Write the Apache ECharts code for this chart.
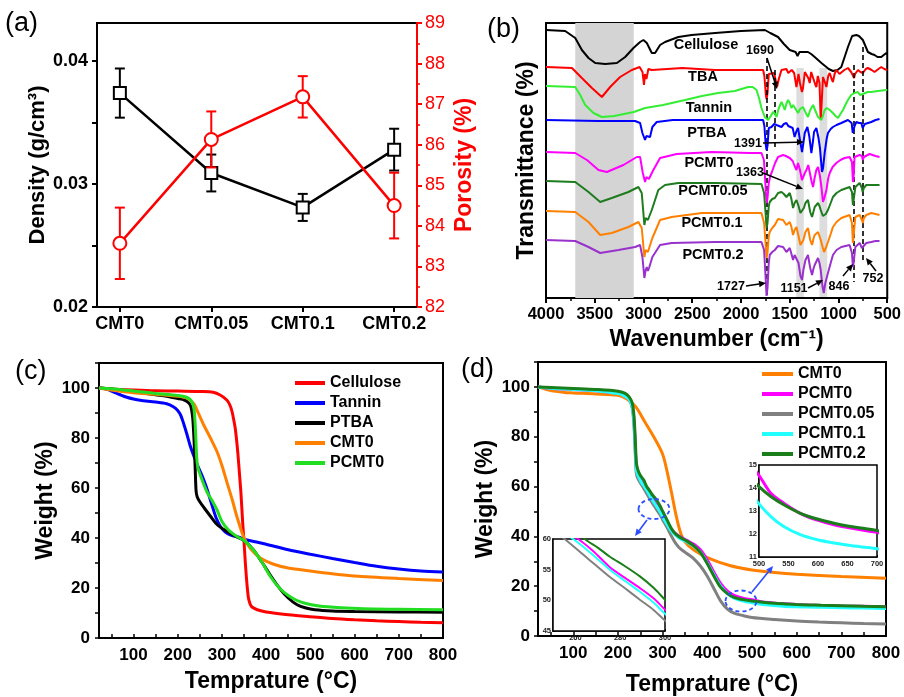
<!DOCTYPE html>
<html><head><meta charset="utf-8">
<script src="https://cdn.jsdelivr.net/npm/echarts@6/dist/echarts.min.js"></script>
<style>html,body{margin:0;padding:0;background:#fff}#c{width:904px;height:697px}</style>
</head><body><div id="c"></div>
<script>
const FONT = 'Arial, "Liberation Sans", Helvetica, sans-serif';

// ---------- (a) density / porosity ----------
const aCategories = ['CMT0', 'CMT0.05', 'CMT0.1', 'CMT0.2'];
const aDensity = [0.0374, 0.0309, 0.0281, 0.0328];
const aDensityErr = [0.0020, 0.0015, 0.0011, 0.0017];
const aPorosity = [83.57, 86.13, 87.18, 84.50];
const aPorosityErr = [0.88, 0.69, 0.51, 0.81];

// ---------- (b) FTIR spectra [wavenumber, offset transmittance (a.u.)] ----------
const bCellulose = [[4000,268],[3803,267],[3700,260],[3632,248],[3564,240],[3495,235],[3393,234],[3273,235],[3188,241],[3103,250],[3035,256],[3001,258],[2966,255],[2915,245],[2881,245],[2830,253],[2779,256],[2643,261],[2506,263],[2265,265],[2000,267],[1755,268],[1700,265],[1620,261],[1560,254],[1500,248],[1440,246],[1420,242],[1400,246],[1380,245],[1313,246],[1280,244],[1244,241],[1175,235],[1100,229],[1057,227],[1010,228],[971,231],[903,251],[860,262],[817,263],[790,262],[750,258],[698,246],[660,244],[630,243],[600,241],[561,241],[510,245],[500,244]];
const bTBA = [[4000,231],[3734,230],[3632,220],[3529,210],[3427,201],[3342,211],[3240,221],[3120,228],[3040,231],[3010,226],[2995,213],[2985,224],[2970,219],[2950,229],[2915,228],[2600,230],[2267,228],[1773,228],[1760,222],[1745,203],[1738,199],[1728,205],[1715,224],[1700,226],[1660,225],[1645,218],[1630,211],[1615,218],[1585,228],[1534,229],[1515,225],[1500,225],[1480,228],[1455,225],[1431,211],[1410,224],[1395,215],[1375,206],[1364,210],[1345,226],[1329,228],[1310,220],[1295,215],[1280,226],[1260,225],[1240,214],[1227,211],[1212,222],[1195,215],[1182,178],[1170,200],[1159,221],[1140,216],[1124,211],[1105,222],[1090,225],[1070,219],[1057,216],[1040,224],[1022,228],[990,224],[971,223],[940,228],[903,230],[870,226],[852,225],[840,220],[830,224],[800,228],[775,226],[750,225],[720,229],[698,230],[660,228],[630,226],[590,229],[561,231],[530,229],[500,228]];
const bTannin = [[4000,212],[3700,211],[3649,203],[3598,193],[3513,185],[3427,181],[3300,182],[3100,186],[2984,190],[2800,193],[2574,198],[2400,202],[2234,205],[2063,207],[1927,211],[1880,211],[1841,208],[1815,200],[1790,190],[1756,181],[1722,178],[1695,182],[1671,186],[1650,184],[1636,181],[1615,189],[1585,196],[1570,193],[1551,188],[1535,194],[1517,198],[1500,195],[1483,190],[1465,193],[1450,191],[1415,185],[1395,189],[1364,191],[1340,186],[1313,181],[1290,188],[1261,193],[1240,188],[1210,181],[1175,178],[1160,182],[1142,188],[1120,190],[1090,188],[1057,185],[1030,182],[1005,180],[980,184],[954,188],[930,193],[903,198],[870,203],[835,205],[800,206],[780,203],[766,201],[750,204],[732,206],[700,206],[664,206],[596,207],[510,208],[500,208]];
const bPTBA = [[4000,178],[3460,177],[3440,175],[3420,177],[3086,177],[3035,175],[3011,165],[2984,158],[2970,162],[2956,163],[2933,161],[2909,171],[2864,176],[2700,178],[2267,178],[1773,178],[1760,172],[1748,155],[1738,148],[1728,152],[1715,170],[1687,171],[1660,174],[1636,173],[1610,172],[1585,171],[1560,174],[1534,175],[1515,172],[1500,171],[1470,170],[1450,161],[1431,167],[1415,170],[1395,158],[1374,146],[1360,155],[1346,165],[1319,171],[1300,162],[1278,145],[1260,158],[1251,166],[1227,170],[1205,160],[1190,150],[1169,126],[1158,130],[1142,145],[1120,160],[1108,165],[1080,169],[1057,171],[1020,173],[971,175],[903,178],[865,175],[854,165],[845,163],[835,172],[817,176],[790,175],[766,175],[752,170],[742,170],[730,174],[715,175],[664,176],[620,178],[579,179]];
const bPCMT0 = [[4000,146],[3700,145],[3580,138],[3462,128],[3376,126],[3206,133],[3069,141],[3035,141],[3007,125],[2984,116],[2970,121],[2960,121],[2945,119],[2933,118],[2899,128],[2830,140],[2659,144],[2300,146],[1909,145],[1790,145],[1765,138],[1756,125],[1745,105],[1736,95],[1728,100],[1715,115],[1700,122],[1687,125],[1650,135],[1620,141],[1568,143],[1540,142],[1500,140],[1470,137],[1450,132],[1431,128],[1415,135],[1395,128],[1375,118],[1364,116],[1345,125],[1329,128],[1310,133],[1295,135],[1275,116],[1261,111],[1245,120],[1227,128],[1210,131],[1190,122],[1175,111],[1159,96],[1145,100],[1124,108],[1105,120],[1090,125],[1060,131],[1022,135],[980,138],[937,140],[886,141],[862,136],[852,116],[845,121],[835,141],[783,143],[760,142],[750,138],[740,141],[732,141],[681,144],[620,142],[579,141]];
const bPCMT005 = [[4000,117],[3700,116],[3564,106],[3444,96],[3325,100],[3155,106],[3052,111],[3018,105],[2991,73],[2978,80],[2966,81],[2955,78],[2943,80],[2915,88],[2848,108],[2779,113],[2643,115],[2267,115],[1790,114],[1763,105],[1748,85],[1738,70],[1728,75],[1715,92],[1705,96],[1680,99],[1653,100],[1620,105],[1585,106],[1560,104],[1534,101],[1500,105],[1485,100],[1466,90],[1450,95],[1431,98],[1410,92],[1390,85],[1374,83],[1355,90],[1339,95],[1313,98],[1290,86],[1271,81],[1255,87],[1244,91],[1210,95],[1195,92],[1182,88],[1160,82],[1148,80],[1130,84],[1108,88],[1080,95],[1057,101],[1020,105],[971,108],[886,111],[862,106],[852,93],[845,95],[827,111],[783,115],[760,110],[752,106],[740,110],[715,113],[664,113],[579,113]];
const bPCMT01 = [[4000,87],[3700,86],[3564,76],[3444,63],[3325,65],[3155,71],[3052,76],[3018,70],[2991,41],[2978,48],[2966,50],[2955,46],[2943,47],[2909,60],[2830,78],[2711,81],[2400,85],[2267,85],[1790,85],[1763,75],[1750,58],[1738,40],[1728,45],[1715,62],[1705,66],[1680,70],[1653,73],[1620,79],[1568,78],[1534,73],[1500,76],[1485,72],[1466,63],[1450,68],[1431,71],[1410,62],[1390,53],[1380,51],[1360,58],[1339,66],[1313,70],[1290,58],[1271,53],[1255,60],[1244,63],[1210,66],[1195,62],[1182,58],[1160,50],[1148,46],[1130,50],[1108,56],[1080,64],[1057,71],[1020,76],[971,80],[886,83],[862,75],[852,55],[845,62],[827,81],[783,83],[760,78],[750,75],[740,80],[715,83],[664,85],[620,84],[579,83]];
const bPCMT02 = [[4000,58],[3700,57],[3564,51],[3444,45],[3257,48],[3086,51],[3035,53],[3011,41],[2991,20],[2978,28],[2966,31],[2955,27],[2943,30],[2909,41],[2830,53],[2711,55],[2267,56],[1790,56],[1763,48],[1750,25],[1738,2],[1728,10],[1715,35],[1705,43],[1680,46],[1653,48],[1620,52],[1568,51],[1534,46],[1500,50],[1485,45],[1466,38],[1450,43],[1431,45],[1410,35],[1390,22],[1374,18],[1360,28],[1339,38],[1313,43],[1290,30],[1271,23],[1255,30],[1244,33],[1210,40],[1195,35],[1182,28],[1165,12],[1151,5],[1135,15],[1108,25],[1080,35],[1057,43],[1020,48],[971,51],[886,53],[862,45],[852,31],[845,35],[827,51],[783,55],[760,50],[750,48],[740,52],[715,55],[664,56],[620,57],[579,57]];
const bNames = ['Cellulose', 'TBA', 'Tannin', 'PTBA', 'PCMT0', 'PCMT0.05', 'PCMT0.1', 'PCMT0.2'];
const bColors = ['#000000', '#ff0000', '#33ee33', '#0000ff', '#ff00ff', '#1e7b1e', '#ff8000', '#9932cc'];
const bShadeBands = [[3700, 3100], [1432, 1356], [1195, 1115]];
const bDashedLines = [[1735, 240, 1], [1650, 228, 148], [842, 233, 16], [750, 251, 35]];

// ---------- (c) TGA [temperature °C, weight %] ----------
const cCellulose = [[22,100],[50,99.6],[100,99.2],[150,98.9],[200,98.8],[250,98.6],[280,98.3],[296,97.2],[311,95.2],[318,93.2],[323,90.5],[327,87],[330,84],[333,79.5],[336,74],[340,65],[343,58],[347,46],[350,38.5],[353,30],[355.5,24],[358,19],[360,16],[364,13.5],[368,12.4],[380,11.3],[400,10.4],[450,9.3],[500,8.5],[550,7.8],[600,7.3],[650,6.9],[700,6.6],[750,6.3],[800,6.1]];
const cTannin = [[22,100],[40,99.5],[55,98.4],[70,97.3],[85,96.3],[100,95.6],[115,95.1],[150,94.4],[175,93.7],[190,92.5],[200,91],[207,89],[213,86],[220,82],[228,77],[236,73],[245,69],[255,65],[265,60.3],[276,54],[287,48],[297,44.5],[307,42.5],[320,41.2],[340,40.2],[350,39.5],[375,38.5],[400,37.5],[450,35.3],[500,33.5],[550,31.8],[600,30.2],[650,28.7],[700,27.6],[750,26.8],[800,26.4]];
const cPTBA = [[22,100],[50,99.6],[100,98.5],[150,97.3],[175,96.7],[200,95.8],[215,95.2],[225,94],[230,92.5],[234,88],[237,79],[239.5,68],[241.5,59],[244,56.5],[250,54.5],[260,52],[275,48.5],[290,45.2],[310,42.8],[330,40.8],[350,39],[370,35.5],[390,30.5],[410,25],[430,20],[450,16],[470,13.3],[490,12],[510,11.3],[550,10.8],[600,10.6],[700,10.4],[800,10.3]];
const cCMT0 = [[22,100],[50,99.2],[100,98.1],[150,97.5],[200,96.7],[220,96],[236,93.8],[247,89.8],[258,85.5],[274,80],[289,74.5],[300,69],[311,62.5],[323,55.5],[334,48.5],[349,40.5],[364,35.9],[387,32],[417,29.5],[450,28],[500,26.8],[550,25.7],[600,24.8],[700,23.8],[800,23]];
const cPCMT0 = [[22,100],[50,99.7],[100,98.8],[150,97.8],[200,97],[220,96.3],[230,95],[236,92.5],[239,87],[241,80],[243,72],[246,68],[255,63.3],[266,58.5],[277,55.2],[289,51.2],[300,46.6],[315,43.2],[334,40.6],[350,39],[370,35.5],[390,30.5],[410,24.5],[430,20],[450,17],[470,15],[490,13.8],[520,12.8],[570,12.1],[620,11.7],[700,11.5],[800,11.3]];
const cNames = ['Cellulose', 'Tannin', 'PTBA', 'CMT0', 'PCMT0'];
const cColors = ['#ff0000', '#0000ff', '#000000', '#ff8000', '#22dd22'];

// ---------- (d) TGA [temperature °C, weight %] ----------
const dCMT0 = [[21,100],[50,98.5],[80,97.8],[100,97.6],[150,97.2],[200,96.6],[220,95.2],[240,92],[260,86],[280,80],[300,73],[310,66],[320,57.5],[330,48.5],[340,41.5],[350,37.8],[370,34.5],[400,31.5],[450,28.3],[500,26.5],[550,25.5],[600,24.8],[700,23.9],[800,23.2]];
const dPCMT0 = [[21,100],[50,99.5],[100,99],[150,98.5],[200,97.5],[215,96.5],[225,95],[232,92.5],[236,86],[239,75],[241,68],[244,65.5],[250,63],[256,61],[261.2,60],[268,58],[275.4,55.4],[282,53.7],[288.8,52],[295,50.3],[300,48.5],[310,45.3],[320,42.5],[330,41],[340,39.7],[355,38.3],[370,36.8],[385,34.5],[400,30.5],[415,25.5],[430,21],[445,18],[460,16.3],[480,15.2],[500,14.55],[520,13.77],[542,13.34],[570,12.9],[599,12.6],[627,12.4],[655,12.26],[700,12.07],[750,11.9],[800,11.7]];
const dPCMT005 = [[21,100],[50,99.5],[100,99.1],[150,98.6],[200,97.6],[215,96.6],[225,95],[232,91.5],[236,84],[239,72],[241,65.5],[244,63.5],[250,61.5],[255.2,60],[265,57],[275.4,53.8],[282,52],[288.8,50.1],[295,48.4],[300,46.7],[310,43.5],[320,40],[330,37],[340,35],[355,33],[370,31],[385,28],[400,24],[415,19],[430,14],[445,10.8],[460,9.2],[480,8.2],[500,7.4],[550,6.6],[600,6.0],[650,5.6],[700,5.3],[750,5.0],[800,4.8]];
const dPCMT01 = [[21,100],[50,99.5],[100,99],[150,98.5],[200,97.3],[215,96.3],[225,95],[232,92],[236,85],[239,74],[241,67],[244,64.8],[250,62.5],[254,61.2],[259,60],[265,58.3],[275.4,55],[282,53.2],[288.8,51.4],[295,49.6],[300,47.8],[310,44.8],[320,42],[330,40.3],[340,39],[355,37.7],[370,36],[385,33.5],[400,29.3],[415,24.5],[430,20],[445,17],[460,15.2],[480,14],[500,13.31],[520,12.76],[542,12.33],[570,11.97],[599,11.75],[627,11.61],[655,11.5],[700,11.36],[750,11.2],[800,11.0]];
const dPCMT02 = [[21,100],[50,99.8],[100,99.4],[150,99],[200,98.3],[215,97.5],[225,96],[232,93.5],[236,88],[239,78],[241,70],[244,67],[250,64.5],[258,62.5],[264.2,60],[270,58.6],[275.4,57.1],[282,55.6],[288.8,53.9],[295,52],[300,50.1],[310,46.5],[320,43],[330,40.8],[340,39.5],[355,38],[370,36.2],[385,33.5],[400,29],[415,24],[430,19.5],[445,17],[460,15.5],[480,14.6],[500,14.06],[520,13.63],[542,13.27],[570,12.9],[599,12.65],[627,12.47],[655,12.33],[700,12.15],[750,11.9],[800,11.7]];
const dNames = ['CMT0', 'PCMT0', 'PCMT0.05', 'PCMT0.1', 'PCMT0.2'];
const dColors = ['#ff8000', '#ff00ff', '#808080', '#22ffff', '#1a7f1a'];

// tick labels
const tgaTickLabels = [100, 200, 300, 400, 500, 600, 700, 800];
const tgaTicks = [50, 100, 150, 200, 250, 300, 350, 400, 450, 500, 550, 600, 650, 700, 750, 800];
const inset1XLabels = [260, 280, 300];
const inset1XTicks = [250, 260, 270, 280, 290, 300];

// ---------------------------------------------------------------
const chart = echarts.init(document.getElementById('c'), null, {renderer: 'canvas'});

const bold = (s) => ({fontFamily: FONT, fontWeight: 'bold', fontSize: s, color: '#000'});
const axLine = (c, w) => ({show: true, onZero: false, lineStyle: {color: c || '#000', width: w || 2}});

function errRender(color) {
  return function (params, api) {
    const x = api.value(0), lo = api.value(1), hi = api.value(2);
    const p1 = api.coord([x, lo]), p2 = api.coord([x, hi]);
    const w = 5;
    const st = {stroke: color, lineWidth: 2};
    return {type: 'group', children: [
      {type: 'line', shape: {x1: p1[0], y1: p1[1], x2: p2[0], y2: p2[1]}, style: st},
      {type: 'line', shape: {x1: p1[0] - w, y1: p1[1], x2: p1[0] + w, y2: p1[1]}, style: st},
      {type: 'line', shape: {x1: p2[0] - w, y1: p2[1], x2: p2[0] + w, y2: p2[1]}, style: st}
    ]};
  };
}

function arrow(x1, y1, x2, y2, color, w) {
  const ang = Math.atan2(y2 - y1, x2 - x1), L = 7, H = 3.2;
  const bx = x2 - L * Math.cos(ang), by = y2 - L * Math.sin(ang);
  const px = -Math.sin(ang) * H, py = Math.cos(ang) * H;
  return [
    {type: 'line', z: 50, shape: {x1: x1, y1: y1, x2: bx, y2: by}, style: {stroke: color, lineWidth: w}},
    {type: 'polygon', z: 50, shape: {points: [[x2, y2], [bx + px, by + py], [bx - px, by - py]]}, style: {fill: color}}
  ];
}

function txt(t, x, y, size, weight, align, color) {
  return {type: 'text', z: 60, style: {text: t, x: x, y: y, fontSize: size, fontFamily: FONT, fontWeight: weight || 'bold', fill: color || '#000', align: align || 'center', verticalAlign: 'middle'}};
}

const series = [];
// (a)
series.push({type: 'custom', xAxisIndex: 0, yAxisIndex: 0, renderItem: errRender('#000'),
  encode: {x: 0, y: [1, 2]}, data: aDensity.map((v, i) => [i, v - aDensityErr[i], v + aDensityErr[i]]), z: 3});
series.push({type: 'line', name: 'Density', xAxisIndex: 0, yAxisIndex: 0, data: aDensity.map((v, i) => [i, v]),
  symbol: 'rect', symbolSize: 12, itemStyle: {color: '#fff', borderColor: '#000', borderWidth: 2},
  lineStyle: {color: '#000', width: 2.5}, z: 4});
series.push({type: 'custom', xAxisIndex: 0, yAxisIndex: 1, renderItem: errRender('#ff0000'),
  encode: {x: 0, y: [1, 2]}, data: aPorosity.map((v, i) => [i, v - aPorosityErr[i], v + aPorosityErr[i]]), z: 5});
series.push({type: 'line', name: 'Porosity', xAxisIndex: 0, yAxisIndex: 1, data: aPorosity.map((v, i) => [i, v]),
  symbol: 'circle', symbolSize: 13, itemStyle: {color: '#fff', borderColor: '#ff0000', borderWidth: 2},
  lineStyle: {color: '#ff0000', width: 2.5}, z: 6});

// (b)
const bData = [bCellulose, bTBA, bTannin, bPTBA, bPCMT0, bPCMT005, bPCMT01, bPCMT02];
bData.forEach((d, i) => {
  const s = {type: 'line', name: 'b_' + bNames[i], xAxisIndex: 1, yAxisIndex: 2, data: d, symbol: 'none',
    lineStyle: {color: bColors[i], width: 2}, z: 3 + i};
  if (i === 0) {
    s.markArea = {silent: true, itemStyle: {color: '#d4d4d4'}, z: 1, data: [
      [{xAxis: bShadeBands[0][0]}, {xAxis: bShadeBands[0][1]}],
      [{xAxis: bShadeBands[1][0], yAxis: 1, itemStyle: {color: '#dddddd'}}, {xAxis: bShadeBands[1][1], yAxis: 230}],
      [{xAxis: bShadeBands[2][0], yAxis: 1, itemStyle: {color: '#dddddd'}}, {xAxis: bShadeBands[2][1], yAxis: 230}]
    ]};
  }
  series.push(s);
});
series.push({type: 'line', name: 'b_dash', xAxisIndex: 1, yAxisIndex: 2, data: [], symbol: 'none', z: 20,
  markLine: {silent: true, symbol: ['none', 'none'], label: {show: false},
    lineStyle: {color: '#000', type: [5, 3], width: 1.6},
    data: bDashedLines.map(l => [{coord: [l[0], l[1]]}, {coord: [l[0], l[2]]}])}});

// (c)
[cCellulose, cTannin, cPTBA, cCMT0, cPCMT0].forEach((d, i) => {
  series.push({type: 'line', name: cNames[i], xAxisIndex: 2, yAxisIndex: 3, data: d, symbol: 'none', smooth: 0.3,
    lineStyle: {color: cColors[i], width: 3}, itemStyle: {color: cColors[i]}, z: 3 + i});
});
// (d)
const dData = [dCMT0, dPCMT0, dPCMT005, dPCMT01, dPCMT02];
dData.forEach((d, i) => {
  series.push({type: 'line', name: dNames[i], xAxisIndex: 3, yAxisIndex: 4, data: d, symbol: 'none', smooth: 0.3,
    lineStyle: {color: dColors[i], width: 3}, itemStyle: {color: dColors[i]}, z: 3 + i});
});
// insets
[1, 2, 3, 4].forEach(i => {
  series.push({type: 'line', name: dNames[i], xAxisIndex: 4, yAxisIndex: 5, data: dData[i], symbol: 'none', smooth: 0.3,
    lineStyle: {color: dColors[i], width: 2}, itemStyle: {color: dColors[i]}, z: 10 + i, clip: true});
});
[1, 3, 4].forEach(i => {
  series.push({type: 'line', name: dNames[i], xAxisIndex: 5, yAxisIndex: 6, data: dData[i], symbol: 'none', smooth: 0.3,
    lineStyle: {color: dColors[i], width: 3}, itemStyle: {color: dColors[i]}, z: 10 + i, clip: true});
});

const gridBox = {show: true, borderColor: '#000', borderWidth: 2, backgroundColor: 'transparent'};

const graphic = [];
graphic.push(txt('(a)', 5, 24, 27, 'normal', 'left'));
graphic.push(txt('(b)', 487, 30, 27, 'normal', 'left'));
graphic.push(txt('(c)', 15, 372, 27, 'normal', 'left'));
graphic.push(txt('(d)', 461, 370, 27, 'normal', 'left'));
const bLabelPos = [[706, 45], [703, 77], [709, 108], [707, 133], [709, 163], [713, 191], [712, 223], [713, 255]];
bNames.forEach((n, i) => graphic.push(txt(n, bLabelPos[i][0], bLabelPos[i][1], 14.5)));
const bPeakLabels = [['1690', 760, 51], ['1391', 748, 144], ['1363', 750, 173], ['1727', 731, 287], ['1151', 794, 289], ['846', 839, 287], ['752', 873, 279]];
bPeakLabels.forEach(p => graphic.push(txt(p[0], p[1], p[2], 12.5)));
[[767, 58, 777, 89], [763, 143, 804, 142], [763, 173, 803, 189], [746, 286, 766, 283], [808, 288, 823, 280], [843, 276, 853, 264], [876, 271, 866, 258]]
  .forEach(a => arrow(a[0], a[1], a[2], a[3], '#000', 1.5).forEach(g => graphic.push(g)));
// (d) zoom markers
graphic.push({type: 'ellipse', z: 50, shape: {cx: 654, cy: 509, rx: 15.5, ry: 10}, style: {fill: 'none', stroke: '#2a4dff', lineWidth: 1.8, lineDash: [4, 3]}});
graphic.push({type: 'ellipse', z: 50, shape: {cx: 741, cy: 601, rx: 15.5, ry: 10.5}, style: {fill: 'none', stroke: '#2a4dff', lineWidth: 1.8, lineDash: [4, 3]}});
arrow(647, 520, 635, 536, '#2a4dff', 1.6).forEach(g => graphic.push(g));
arrow(752, 592, 773, 566, '#2a4dff', 1.6).forEach(g => graphic.push(g));

const legendText = {fontFamily: FONT, fontWeight: 'bold', fontSize: 16, color: '#000', lineHeight: 16};

const option = {
  animation: false,
  backgroundColor: '#fff',
  textStyle: {fontFamily: FONT},
  grid: [
    Object.assign({left: 97, top: 23, width: 320, height: 284}, gridBox),
    Object.assign({left: 546, top: 23, width: 342, height: 275}, gridBox),
    Object.assign({left: 99, top: 363, width: 344, height: 275}, gridBox),
    Object.assign({left: 538, top: 362, width: 348, height: 278}, gridBox),
    {show: true, left: 553, top: 539, width: 112, height: 92, borderColor: '#000', borderWidth: 1.5, backgroundColor: '#fff', z: 8},
    {show: true, left: 759, top: 465, width: 118, height: 92, borderColor: '#000', borderWidth: 1.5, backgroundColor: '#fff', z: 8}
  ],
  xAxis: [
    {gridIndex: 0, type: 'value', min: -0.25, max: 3.25, axisLine: axLine(), splitLine: {show: false},
      axisTick: {show: true, customValues: [0, 1, 2, 3], length: 5, lineStyle: {width: 2}},
      axisLabel: {customValues: [0, 1, 2, 3], formatter: v => aCategories[Math.round(v)], margin: 8, ...bold(18)}},
    {gridIndex: 1, type: 'value', min: 500, max: 4000, interval: 500, inverse: true, axisLine: axLine(), splitLine: {show: false},
      axisTick: {show: true, length: 5, lineStyle: {width: 2}}, minorTick: {show: true, splitNumber: 2, length: 3, lineStyle: {width: 1.5, color: '#000'}},
      axisLabel: {margin: 8, formatter: v => String(v), ...bold(16.5)},
      name: 'Wavenumber (cm⁻¹)', nameLocation: 'middle', nameGap: 30, nameTextStyle: bold(23)},
    {gridIndex: 2, type: 'value', min: 22, max: 800, axisLine: axLine(), splitLine: {show: false},
      axisTick: {show: true, inside: true, customValues: tgaTicks, length: 4, lineStyle: {width: 1.5}},
      axisLabel: {customValues: tgaTickLabels, margin: 9, formatter: v => String(v), ...bold(17)},
      name: 'Temprature (°C)', nameLocation: 'middle', nameGap: 32, nameTextStyle: bold(23)},
    {gridIndex: 3, type: 'value', min: 21, max: 800, axisLine: axLine(), splitLine: {show: false},
      axisTick: {show: true, inside: true, customValues: tgaTicks, length: 4, lineStyle: {width: 1.5}},
      axisLabel: {customValues: tgaTickLabels, margin: 9, formatter: v => String(v), ...bold(17)},
      name: 'Temprature (°C)', nameLocation: 'middle', nameGap: 37, nameTextStyle: bold(23)},
    {gridIndex: 4, type: 'value', min: 250, max: 300, axisLine: axLine('#000', 1.5), splitLine: {show: false},
      axisTick: {show: true, inside: true, customValues: inset1XTicks, length: 2, lineStyle: {width: 1}},
      axisLabel: {customValues: inset1XLabels, margin: 3, formatter: v => String(v), ...bold(7.5), color: '#222'}},
    {gridIndex: 5, type: 'value', min: 500, max: 700, interval: 50, axisLine: axLine('#000', 1.5), splitLine: {show: false},
      axisTick: {show: true, inside: true, length: 2, lineStyle: {width: 1}},
      axisLabel: {margin: 3, ...bold(7.5), color: '#222'}}
  ],
  yAxis: [
    {gridIndex: 0, type: 'value', min: 0.02, max: 0.0431, interval: 0.005, axisLine: axLine(), splitLine: {show: false},
      axisTick: {show: true, length: 5, lineStyle: {width: 2}},
      axisLabel: {margin: 9, showMaxLabel: false, formatter: v => (Math.abs(v * 100 - Math.round(v * 100)) < 1e-6 && v < 0.043) ? v.toFixed(2) : '', ...bold(18)},
      name: 'Density (g/cm³)', nameLocation: 'middle', nameRotate: 90, nameGap: 48, nameTextStyle: bold(22)},
    {gridIndex: 0, type: 'value', position: 'right', min: 82, max: 89, interval: 1, axisLine: axLine('#ff0000'), splitLine: {show: false},
      axisTick: {show: true, length: 5, lineStyle: {width: 2, color: '#ff0000'}}, minorTick: {show: true, splitNumber: 2, length: 3, lineStyle: {width: 1.5, color: '#ff0000'}},
      axisLabel: {margin: 8, ...bold(18), color: '#ff0000', fontWeight: 'normal'},
      name: 'Porosity (%)', nameLocation: 'middle', nameRotate: 90, nameGap: 36, nameTextStyle: Object.assign(bold(23), {color: '#ff0000'})},
    {gridIndex: 1, type: 'value', min: 0, max: 275, axisLine: axLine(), splitLine: {show: false}, axisTick: {show: false}, axisLabel: {show: false},
      name: 'Transmittance (%)', nameLocation: 'middle', nameRotate: 90, nameGap: 8, nameTextStyle: bold(23)},
    {gridIndex: 2, type: 'value', min: 0, max: 110, interval: 10, axisLine: axLine(), splitLine: {show: false},
      axisTick: {show: true, length: 4, lineStyle: {width: 1.5}},
      axisLabel: {margin: 9, formatter: v => (v % 20 === 0 && v <= 100) ? String(v) : '', ...bold(17)},
      name: 'Weight (%)', nameLocation: 'middle', nameRotate: 90, nameGap: 42, nameTextStyle: bold(23)},
    {gridIndex: 3, type: 'value', min: 0, max: 110, interval: 10, axisLine: axLine(), splitLine: {show: false},
      axisTick: {show: true, length: 4, lineStyle: {width: 1.5}},
      axisLabel: {margin: 8, formatter: v => (v % 20 === 0 && v <= 100) ? String(v) : '', ...bold(17)},
      name: 'Weight (%)', nameLocation: 'middle', nameRotate: 90, nameGap: 41, nameTextStyle: bold(23)},
    {gridIndex: 4, type: 'value', min: 45, max: 60, interval: 5, axisLine: axLine('#000', 1.5), splitLine: {show: false},
      axisTick: {show: true, inside: true, length: 2, lineStyle: {width: 1}},
      axisLabel: {margin: 2, ...bold(7.5), color: '#222'}},
    {gridIndex: 5, type: 'value', min: 11, max: 15, interval: 1, axisLine: axLine('#000', 1.5), splitLine: {show: false},
      axisTick: {show: true, inside: true, length: 2, lineStyle: {width: 1}},
      axisLabel: {margin: 2, ...bold(7.5), color: '#222'}}
  ],
  legend: [
    {orient: 'vertical', left: 295, top: 375, padding: 0, icon: 'rect', itemWidth: 30, itemHeight: 4, itemGap: 4, selectedMode: false,
      textStyle: legendText,
      data: cNames.map((n, i) => ({name: n, itemStyle: {color: cColors[i]}}))},
    {orient: 'vertical', left: 762, top: 366, padding: 0, icon: 'rect', itemWidth: 31, itemHeight: 4, itemGap: 4, selectedMode: false,
      textStyle: legendText,
      data: dNames.map((n, i) => ({name: n, itemStyle: {color: dColors[i]}}))}
  ],
  graphic: graphic,
  series: series
};
chart.setOption(option);
</script>
</body></html>
